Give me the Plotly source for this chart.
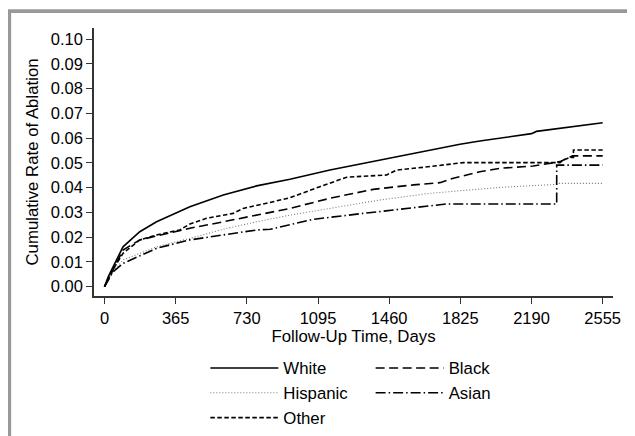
import plotly.graph_objects as go

# ---- data ----
white_days = [0, 19, 44, 95, 181, 267, 438, 609, 780, 951, 1156, 1412, 1669, 1823, 1925, 2190, 2215, 2555]
white_rate = [0, 0.004, 0.008, 0.0161, 0.0222, 0.0262, 0.0323, 0.0370, 0.0407, 0.0434, 0.0471, 0.0511, 0.0552, 0.0575, 0.0588, 0.0618, 0.0627, 0.0662]

black_days = [0, 20, 44, 95, 181, 267, 438, 609, 780, 951, 1156, 1378, 1584, 1720, 1789, 1925, 2028, 2199, 2336, 2400, 2555]
black_rate = [0, 0.003, 0.007, 0.0148, 0.0189, 0.0205, 0.0236, 0.0262, 0.0289, 0.0316, 0.0357, 0.0393, 0.0411, 0.0420, 0.0438, 0.0464, 0.0478, 0.0487, 0.0505, 0.0528, 0.0528]

hispanic_days = [0, 20, 44, 95, 181, 267, 438, 609, 780, 951, 1156, 1412, 1669, 1925, 2028, 2319, 2330, 2555]
hispanic_rate = [0, 0.003, 0.006, 0.0108, 0.0135, 0.0161, 0.0195, 0.0232, 0.0262, 0.0289, 0.0316, 0.0350, 0.0377, 0.0393, 0.0401, 0.0413, 0.0417, 0.0417]

asian_days = [0, 20, 44, 95, 181, 267, 438, 609, 780, 850, 951, 1070, 1327, 1549, 1755, 2319, 2319, 2555]
asian_rate = [0, 0.003, 0.006, 0.0094, 0.0124, 0.0155, 0.0189, 0.0209, 0.0229, 0.0232, 0.0249, 0.0272, 0.0296, 0.0316, 0.0334, 0.0334, 0.0491, 0.0491]

other_days = [0, 20, 44, 95, 181, 267, 386, 438, 523, 660, 711, 831, 951, 1105, 1242, 1447, 1498, 1635, 1806, 1840, 2336, 2352, 2388, 2405, 2405, 2555]
other_rate = [0, 0.003, 0.007, 0.0135, 0.0189, 0.0209, 0.0229, 0.0253, 0.0276, 0.0296, 0.0316, 0.0337, 0.0359, 0.0404, 0.0442, 0.0451, 0.0471, 0.0482, 0.0498, 0.0501, 0.0501, 0.0511, 0.0522, 0.0522, 0.0552, 0.0552]

x_ticks = [0, 365, 730, 1095, 1460, 1825, 2190, 2555]
y_ticks = [0.00, 0.01, 0.02, 0.03, 0.04, 0.05, 0.06, 0.07, 0.08, 0.09, 0.10]

FONT = "Liberation Sans, Arial, Helvetica, sans-serif"

fig = go.Figure()
# (name, x, y, line style, legend column)
series = [
    ("White", white_days, white_rate, dict(color="black", width=1.6, dash="solid"), "legend"),
    ("Hispanic", hispanic_days, hispanic_rate, dict(color="#777777", width=1.1, dash="1px,2px"), "legend"),
    ("Other", other_days, other_rate, dict(color="black", width=1.6, dash="4.5px,2.5px"), "legend"),
    ("Black", black_days, black_rate, dict(color="black", width=1.6, dash="9px,4.5px"), "legend2"),
    ("Asian", asian_days, asian_rate, dict(color="black", width=1.6, dash="10px,3px,1.5px,3px"), "legend2"),
]
for name, xs, ys, ln, lg in series:
    fig.add_trace(go.Scatter(x=xs, y=ys, mode="lines", name=name, line=ln, legend=lg))

legend_common = dict(
    orientation="v", xanchor="left", yanchor="top", itemwidth=68,
    font=dict(family=FONT, size=16.8, color="black"),
    bgcolor="rgba(0,0,0,0)", traceorder="normal", tracegroupgap=0,
)

fig.update_layout(
    width=627, height=428,
    margin=dict(l=86, r=22, t=20, b=140, autoexpand=False),
    paper_bgcolor="white", plot_bgcolor="white",
    font=dict(family=FONT, size=16.5, color="black"),
    showlegend=True,
    legend=dict(x=0.2145, y=-0.2034, **legend_common),
    legend2=dict(x=0.533, y=-0.2034, **legend_common),
    xaxis=dict(
        range=[-53.8, 2607.8], tickmode="array", tickvals=x_ticks,
        ticktext=[str(t) for t in x_ticks],
        showgrid=False, zeroline=False, showline=True, linecolor="#333333", linewidth=1.5,
        ticks="outside", ticklen=6, tickwidth=1.3, tickcolor="#333333",
        title=dict(text="Follow-Up Time, Days", standoff=0, font=dict(size=16.8)),
    ),
    yaxis=dict(
        range=[-0.00375, 0.10444], tickmode="array", tickvals=y_ticks,
        ticktext=[f"{t:.2f}" for t in y_ticks],
        showgrid=False, zeroline=False, showline=True, linecolor="#333333", linewidth=1.5,
        ticks="outside", ticklen=6, tickwidth=1.3, tickcolor="#333333",
        title=dict(text="Cumulative Rate of Ablation", standoff=8, font=dict(size=16.8)),
    ),
    shapes=[dict(type="rect", xref="paper", yref="paper",
                 x0=-0.1632, x1=1.0424, y0=-0.62, y1=1.0627,
                 line=dict(color="#999999", width=3.7), layer="below")],
)

fig.write_html("out.html")
